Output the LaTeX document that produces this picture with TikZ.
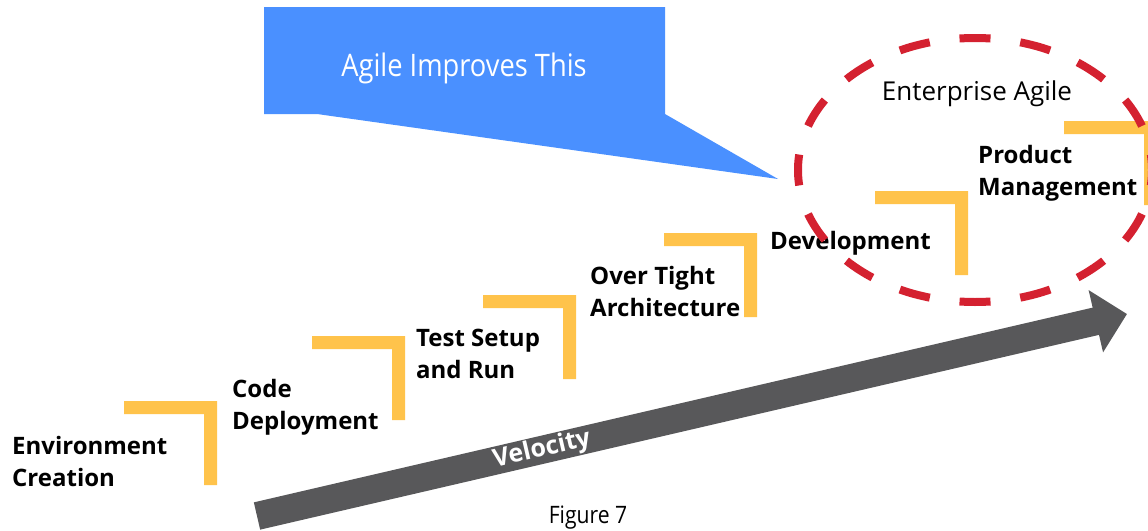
\documentclass[tikz,border=0pt]{standalone}
\usepackage{fontspec}
\setmainfont{Open Sans}
\newfontfamily\narrowfont[FakeStretch=0.88]{Open Sans}
\usetikzlibrary{arrows.meta}

\definecolor{callblue}{RGB}{74,144,255}
\definecolor{stairyellow}{RGB}{255,195,75}
\definecolor{velgray}{RGB}{88,88,90}
\definecolor{dashred}{RGB}{212,33,48}

\tikzset{
  steplabel/.style={anchor=base west, inner sep=0pt, align=left,
    font=\fontsize{24}{32}\selectfont\bfseries, text=black},
  stair/.pic={
    \fill[stairyellow] (0,0) -- (93,0) -- (93,84) -- (80,84) -- (80,13) -- (0,13) -- cycle;
  },
  velarrow/.style={draw=velgray, line width=28pt,
    -{Triangle[length=32pt,width=62pt]}},
}

\begin{document}
\begin{tikzpicture}[x=1pt,y=-1pt]
\useasboundingbox (0,0) rectangle (1148,530);
\clip (0,0) rectangle (1148,530);

% callout box with its pointer
\fill[callblue] (264,7) -- (665,7) -- (665,114) -- (778,179) -- (317,114) -- (264,114) -- cycle;
\node[text=white, font=\narrowfont\fontsize{31}{35}\selectfont] (callout) at (464,68) {Agile Improves This};

% stair steps
\pic at (124,401) {stair};
\pic at (312,336) {stair};
\pic at (483,295) {stair};
\pic at (664,233) {stair};
\pic at (875,191) {stair};
\pic at (1064,121) {stair};

% step labels (anchored at the baseline of the last line)
\node[steplabel] (env) at (12,486) {Environment\\Creation};
\node[steplabel] (code) at (232,429) {Code\\Deployment};
\node[steplabel] (test) at (416,378) {Test Setup\\and Run};
\node[steplabel] (arch) at (590,316) {Over Tight\\Architecture};
\node[steplabel] (dev) at (770,249) {Development};
\node[steplabel] (prod) at (978,195) {Product\\Management};

% enterprise agile region
\draw[dashred, line width=8pt, dash pattern=on 31pt off 30pt, dash phase=15.5pt]
  (975,38) arc[start angle=-90, end angle=270, x radius=177, y radius=132];
\node[font=\fontsize{26}{30}\selectfont] (ent) at (977,94) {Enterprise Agile};

% velocity arrow
\coordinate (tail) at (257,516);
\coordinate (tip) at (1127,314);
\draw[velarrow] (tail) -- (tip);
\node[rotate=13, text=white, font=\fontsize{25}{30}\selectfont\bfseries] (vel) at (542,450) {Velocity};

% caption
\node[font=\narrowfont\fontsize{24}{27}\selectfont] (cap) at (588,518) {Figure 7};
\end{tikzpicture}
\end{document}
